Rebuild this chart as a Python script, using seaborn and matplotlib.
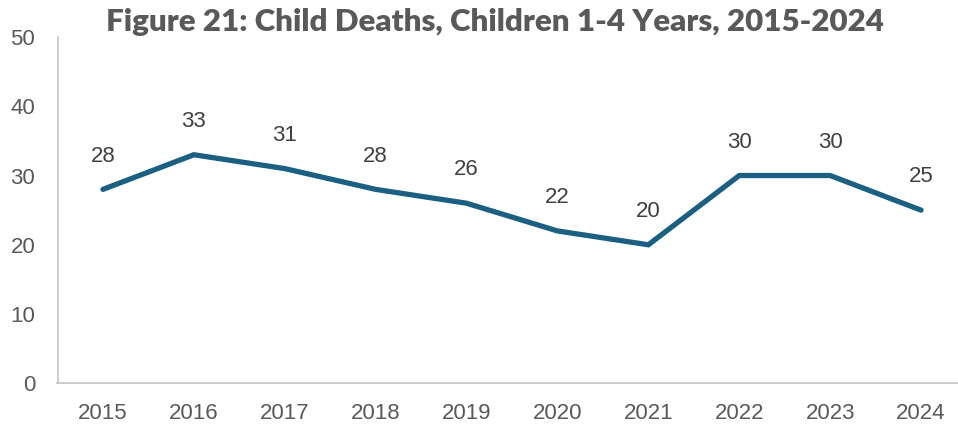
import matplotlib
matplotlib.use("Agg")
import matplotlib.pyplot as plt
import seaborn as sns
import pandas as pd

years = ["2015", "2016", "2017", "2018", "2019", "2020", "2021", "2022", "2023", "2024"]
deaths = [28, 33, 31, 28, 26, 22, 20, 30, 30, 25]
y_ticks = [0, 10, 20, 30, 40, 50]

df = pd.DataFrame({"year": years, "deaths": deaths})

sns.set_theme(style="white")
plt.rcParams["font.family"] = ["Liberation Sans", "DejaVu Sans"]

fig = plt.figure(figsize=(9.58, 4.26), dpi=100)
ax = fig.add_axes([57.5 / 958, 42.7 / 426, 909 / 958, 346.3 / 426])

sns.lineplot(data=df, x="year", y="deaths", ax=ax, color="#1B6083",
             linewidth=3.8, sort=False, solid_joinstyle="miter",
             solid_capstyle="round")

for i, v in enumerate(deaths):
    ax.annotate(str(v), (i, v), xytext=(0, 24), textcoords="offset points",
                ha="center", va="center", fontsize=16, color="#404040")

ax.set_xlim(-0.5, len(years) - 0.5)
ax.set_ylim(0, 50)
ax.set_yticks(y_ticks)
ax.set_xlabel("")
ax.set_ylabel("")

for side in ("top", "right"):
    ax.spines[side].set_visible(False)
for side in ("left", "bottom"):
    ax.spines[side].set_color("#C9C9C9")
    ax.spines[side].set_linewidth(1.3)

ax.tick_params(axis="y", length=0, pad=16, labelsize=16, labelcolor="#595959")
ax.tick_params(axis="x", direction="in", length=4, width=1.2, color="#C9C9C9",
               pad=14, labelsize=16, labelcolor="#595959")

fig.text(495 / 958, 1 - 22 / 426, "Figure 21: Child Deaths, Children 1-4 Years, 2015-2024",
         ha="center", va="center", fontsize=22.5, fontweight="heavy", color="#595959",
         family=["Lato", "DejaVu Sans"])

fig.savefig("out.png", dpi=100)
